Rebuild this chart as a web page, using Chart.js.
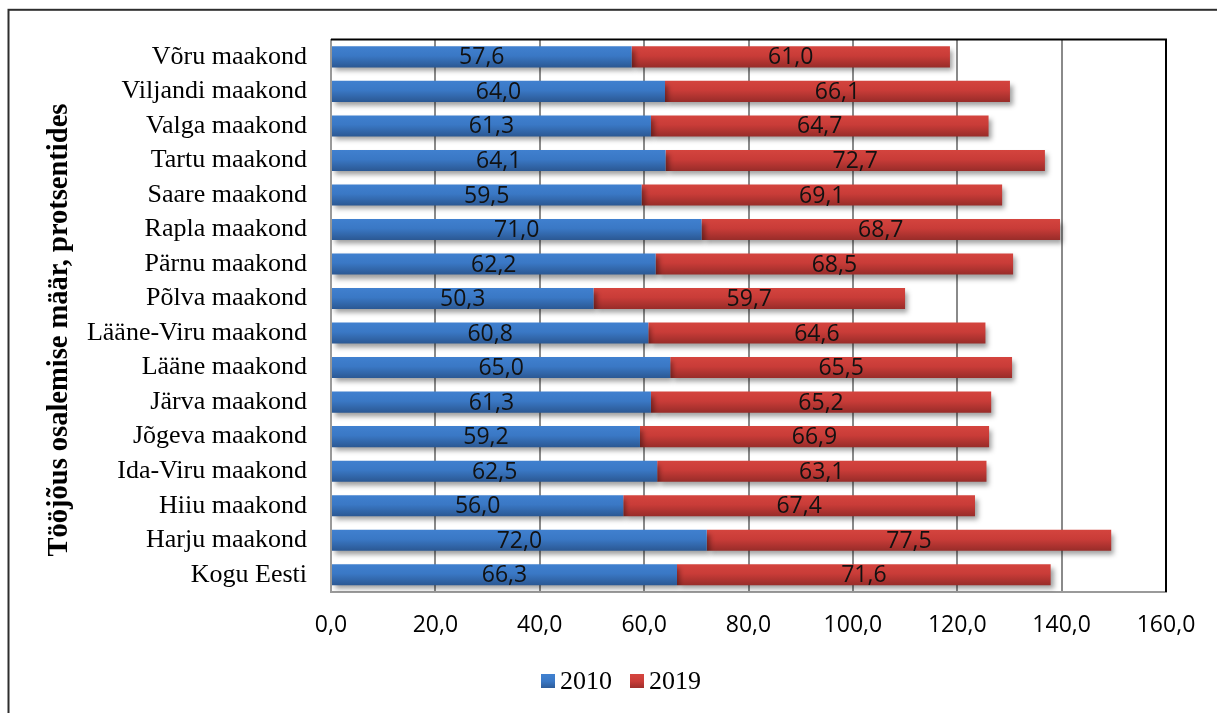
<!DOCTYPE html>
<html lang="et">
<head>
<meta charset="utf-8">
<title>Tööjõus osalemise määr maakonniti</title>
<script src="https://cdn.jsdelivr.net/npm/chart.js@4.4.1/dist/chart.umd.min.js"></script>
<style>
  html, body { margin: 0; padding: 0; background: #fff; }
  canvas { display: block; }
</style>
</head>
<body>
<canvas id="chart" width="1217" height="713"></canvas>
<script>
// Labour force participation rate by county, 2010 vs 2019 (%)
const categories = [
  'Võru maakond', 'Viljandi maakond', 'Valga maakond', 'Tartu maakond',
  'Saare maakond', 'Rapla maakond', 'Pärnu maakond', 'Põlva maakond',
  'Lääne-Viru maakond', 'Lääne maakond', 'Järva maakond', 'Jõgeva maakond',
  'Ida-Viru maakond', 'Hiiu maakond', 'Harju maakond', 'Kogu Eesti'
];
const values2010 = [57.6, 64.0, 61.3, 64.1, 59.5, 71.0, 62.2, 50.3, 60.8, 65.0, 61.3, 59.2, 62.5, 56.0, 72.0, 66.3];
const values2019 = [61.0, 66.1, 64.7, 72.7, 69.1, 68.7, 68.5, 59.7, 64.6, 65.5, 65.2, 66.9, 63.1, 67.4, 77.5, 71.6];
const seriesNames = ['2010', '2019'];
// trailing spaces nudge the centred axis title slightly downwards
const axisTitle = 'Tööjõus osalemise määr, protsentides    ';
const xMin = 0, xMax = 160, xStep = 20;

const SERIF = "'Liberation Serif', 'Times New Roman', serif";
const SANS = "'Open Sans', 'Noto Sans', sans-serif";

// vertical shading stops for each series (light top, darker bottom)
const shades = [
  ['#4080cf', '#3a78c5', '#2b5893'],
  ['#d4443e', '#c93c38', '#982c29']
];

const fmt = v => Number(v).toFixed(1).replace('.', ',');

function barGradient(ctx2d, top, bottom, stops) {
  const g = ctx2d.createLinearGradient(0, top, 0, bottom);
  g.addColorStop(0, stops[0]);
  g.addColorStop(0.45, stops[1]);
  g.addColorStop(1, stops[2]);
  return g;
}

function shadedFill(seriesIndex) {
  return (c) => {
    const chart = c.chart;
    const ys = chart.scales && chart.scales.y;
    if (!ys || c.dataIndex === undefined) return shades[seriesIndex][1];
    const yc = ys.getPixelForValue(c.dataIndex);
    const half = ys.height / categories.length * 0.61 / 2;
    if (!isFinite(yc) || !isFinite(half) || half <= 0) return shades[seriesIndex][1];
    return barGradient(chart.ctx, yc - half, yc + half, shades[seriesIndex]);
  };
}

// outer frame, plot frame, bar shadows, value labels, legend
const decorations = {
  id: 'decorations',
  beforeDraw(chart) {
    const ctx = chart.ctx;
    ctx.save();
    ctx.fillStyle = '#fff';
    ctx.fillRect(0, 0, chart.width, chart.height);
    ctx.strokeStyle = '#2e2e2e';
    ctx.lineWidth = 2;
    ctx.strokeRect(8.5, 9.8, chart.width + 20, chart.height + 20);
    ctx.restore();
  },
  beforeDatasetsDraw(chart) {
    const ctx = chart.ctx;
    const a = chart.chartArea;
    ctx.save();
    ctx.strokeStyle = '#000';
    ctx.lineWidth = 2;
    ctx.beginPath();
    ctx.moveTo(a.left, a.top);
    ctx.lineTo(a.right, a.top);
    ctx.lineTo(a.right, a.bottom);
    ctx.stroke();
    ctx.restore();

    ctx.save();
    ctx.shadowColor = 'rgba(0,0,0,0.38)';
    ctx.shadowBlur = 5;
    ctx.shadowOffsetX = 3;
    ctx.shadowOffsetY = 4;
  },
  afterDatasetsDraw(chart) {
    const ctx = chart.ctx;
    ctx.restore();
    ctx.save();
    ctx.font = '23px ' + SANS;
    ctx.fillStyle = '#111';
    ctx.textAlign = 'center';
    ctx.textBaseline = 'middle';
    chart.data.datasets.forEach((ds, di) => {
      const meta = chart.getDatasetMeta(di);
      meta.data.forEach((el, i) => {
        const cx = (el.x + el.base) / 2;
        ctx.fillText(fmt(ds.data[i]), cx, el.y + 1);
      });
    });
    ctx.restore();
  },
  afterDraw(chart) {
    const ctx = chart.ctx;
    ctx.save();
    ctx.font = '26px ' + SERIF;
    ctx.textBaseline = 'middle';
    const box = 14, gapText = 5, gapItem = 18;
    const widths = chart.data.datasets.map(ds => box + gapText + ctx.measureText(ds.label).width);
    const total = widths.reduce((s, w) => s + w, 0) + gapItem * (widths.length - 1);
    let x = 621 - total / 2;
    const yc = 682;
    chart.data.datasets.forEach((ds, di) => {
      ctx.fillStyle = barGradient(ctx, yc - 7, yc + 7, shades[di]);
      ctx.fillRect(x, yc - 8, box, box);
      ctx.fillStyle = '#000';
      ctx.fillText(ds.label, x + box + gapText, yc);
      x += widths[di] + gapItem;
    });
    ctx.restore();
  }
};

new Chart(document.getElementById('chart'), {
  type: 'bar',
  data: {
    labels: categories,
    datasets: [
      { label: seriesNames[0], data: values2010, backgroundColor: shadedFill(0), borderWidth: 0 },
      { label: seriesNames[1], data: values2019, backgroundColor: shadedFill(1), borderWidth: 0 }
    ]
  },
  options: {
    indexAxis: 'y',
    responsive: false,
    animation: false,
    devicePixelRatio: 1,
    layout: { padding: { left: 0, top: 39, right: 51, bottom: 0 } },
    datasets: { bar: { categoryPercentage: 1, barPercentage: 0.61 } },
    plugins: {
      legend: { display: false },
      tooltip: { enabled: false }
    },
    scales: {
      x: {
        stacked: true,
        min: xMin,
        max: xMax,
        afterFit: s => { s.height = 121; },
        ticks: {
          stepSize: xStep,
          padding: 20,
          color: '#000',
          font: { family: SANS, size: 23 },
          callback: v => fmt(v)
        },
        grid: { color: '#8a8a8a', lineWidth: 2, drawTicks: false },
        border: { color: '#9a9a9a', width: 2 }
      },
      y: {
        stacked: true,
        afterFit: s => { s.width = 331; },
        ticks: {
          padding: 24,
          color: '#000',
          font: { family: SERIF, size: 26 },
          autoSkip: false
        },
        grid: { display: false, drawTicks: false },
        border: { color: '#9a9a9a', width: 2 },
        title: {
          display: true,
          text: axisTitle,
          color: '#000',
          font: { family: SERIF, size: 28.5, weight: 'bold' },
          padding: { top: 43, bottom: 0 }
        }
      }
    }
  },
  plugins: [decorations]
});
</script>
</body>
</html>
